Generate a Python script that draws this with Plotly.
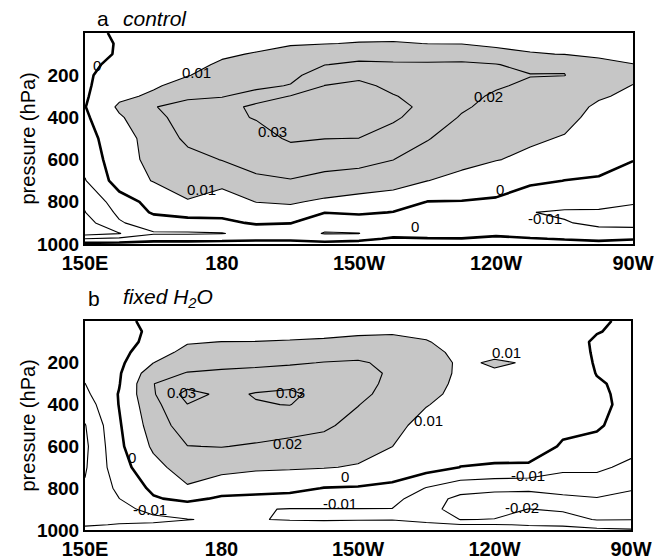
import numpy as np
import plotly.graph_objects as go

# ---------------- data ----------------
LON = [150, 157.5, 165, 172.5, 180, 187.5, 195, 202.5, 210, 217.5, 225, 232.5, 240, 247.5, 255, 262.5, 270]
PRES = [0, 50, 100, 150, 200, 250, 300, 350, 400, 500, 600, 700, 800, 850, 900, 950, 975, 1000]

TICK_LON = [150, 180, 210, 240, 270]
TICK_LON_TEXT = ["150E", "180", "150W", "120W", "90W"]
TICK_P = [200, 400, 600, 800, 1000]

# panel a (control): one list per longitude, values at PRES levels
CONTROL_COLS = [
    [-0.006, -0.005, -0.004, -0.003, -0.002, -0.0015, -0.001, -0.0003, -0.0015, -0.004, -0.007, -0.0105, -0.019, -0.0202, -0.024, -0.024, -0.01, 0.003],
    [0.003, 0.001, 0.001, 0.0034, 0.006, 0.0065, 0.008, 0.0115, 0.009, 0.0063, 0.0062, 0.0045, -0.0043, -0.008, -0.011, -0.0205, -0.008, 0.003],
    [0.004, 0.005, 0.006, 0.007, 0.008, 0.009, 0.0115, 0.0195, 0.016, 0.0135, 0.0125, 0.0105, 0.003, 0.0012, -0.005, -0.011, -0.004, 0.004],
    [0.005, 0.006, 0.007, 0.008, 0.0097, 0.013, 0.018, 0.024, 0.026, 0.022, 0.017, 0.0135, 0.0095, 0.004, -0.004, -0.011, -0.004, 0.004],
    [0.006, 0.007, 0.009, 0.011, 0.013, 0.016, 0.0195, 0.025, 0.028, 0.026, 0.0203, 0.0125, 0.006, 0.0025, -0.002, -0.0105, -0.003, 0.004],
    [0.007, 0.008, 0.0105, 0.013, 0.015, 0.018, 0.0235, 0.033, 0.0305, 0.027, 0.024, 0.018, 0.0102, 0.006, 0.001, -0.006, -0.002, 0.004],
    [0.008, 0.0095, 0.012, 0.015, 0.0175, 0.0205, 0.0305, 0.034, 0.035, 0.031, 0.0255, 0.0195, 0.011, 0.007, 0.0003, -0.006, -0.002, 0.004],
    [0.008, 0.0098, 0.014, 0.0198, 0.025, 0.0302, 0.034, 0.036, 0.036, 0.0301, 0.024, 0.017, 0.0085, 0.0003, -0.007, -0.0105, -0.004, 0.003],
    [0.008, 0.0103, 0.017, 0.0215, 0.028, 0.032, 0.034, 0.035, 0.035, 0.0299, 0.0235, 0.015, 0.007, 0.0015, -0.006, -0.0102, -0.002, 0.003],
    [0.008, 0.0105, 0.017, 0.021, 0.025, 0.028, 0.0305, 0.0325, 0.031, 0.027, 0.0201, 0.0135, 0.0055, -0.0003, -0.006, -0.003, 0.001, 0.004],
    [0.008, 0.0099, 0.0165, 0.021, 0.024, 0.026, 0.027, 0.028, 0.027, 0.0205, 0.016, 0.0101, -0.0002, -0.005, -0.008, -0.004, 0.0005, 0.004],
    [0.008, 0.0097, 0.016, 0.0215, 0.024, 0.025, 0.024, 0.0215, 0.019, 0.0155, 0.0125, 0.0075, -0.0004, -0.0055, -0.008, -0.004, 0.0003, 0.004],
    [0.007, 0.0085, 0.0125, 0.0205, 0.0235, 0.0215, 0.018, 0.0165, 0.015, 0.0125, 0.0103, 0.0045, -0.0012, -0.006, -0.009, -0.002, 0.002, 0.004],
    [0.007, 0.008, 0.0105, 0.0165, 0.0205, 0.0175, 0.015, 0.0135, 0.012, 0.011, 0.0085, 0.0015, -0.005, -0.0098, -0.0085, -0.003, 0.0005, 0.004],
    [0.006, 0.007, 0.0098, 0.019, 0.0202, 0.016, 0.014, 0.013, 0.012, 0.0095, 0.0055, -0.0001, -0.007, -0.011, -0.0095, -0.004, -0.0005, 0.003],
    [0.005, 0.006, 0.0085, 0.0125, 0.0135, 0.0125, 0.0108, 0.0088, 0.0078, 0.0055, 0.003, -0.0008, -0.0075, -0.011, -0.0115, -0.0075, -0.002, 0.003],
    [0.004, 0.005, 0.007, 0.0103, 0.0115, 0.0098, 0.0085, 0.007, 0.006, 0.0035, 0.0003, -0.004, -0.0095, -0.0115, -0.0115, -0.008, -0.0005, 0.003],
]

# panel b (fixed H2O)
FIXED_COLS = [
    [-0.003, -0.004, -0.005, -0.006, -0.007, -0.0085, -0.0101, -0.012, -0.015, -0.0205, -0.022, -0.021, -0.019, -0.017, -0.016, -0.014, -0.011, -0.007],
    [-0.001, -0.003, -0.004, -0.003, -0.002, -0.001, -0.0005, 0.0005, 0.0003, -0.001, -0.002, -0.004, -0.008, -0.0101, -0.012, -0.012, -0.0095, -0.006],
    [0.001, 0.0015, 0.003, 0.006, 0.0099, 0.016, 0.0198, 0.019, 0.017, 0.0145, 0.0115, 0.007, 0.002, -0.001, -0.008, -0.0115, -0.009, -0.006],
    [0.003, 0.005, 0.0093, 0.0125, 0.016, 0.0205, 0.026, 0.0335, 0.0298, 0.025, 0.0198, 0.0145, 0.009, 0.0025, -0.006, -0.0102, -0.008, -0.005],
    [0.004, 0.006, 0.0101, 0.014, 0.0175, 0.0215, 0.025, 0.028, 0.0275, 0.025, 0.0203, 0.013, 0.0045, -0.0015, -0.007, -0.0092, -0.007, -0.005],
    [0.004, 0.006, 0.0102, 0.014, 0.018, 0.0225, 0.027, 0.0305, 0.0295, 0.025, 0.019, 0.0115, 0.003, -0.002, -0.0095, -0.0098, -0.008, -0.006],
    [0.004, 0.0065, 0.0108, 0.0145, 0.019, 0.0235, 0.0278, 0.0318, 0.0302, 0.0235, 0.0175, 0.011, 0.0025, -0.003, -0.0103, -0.0103, -0.008, -0.006],
    [0.004, 0.007, 0.0115, 0.0165, 0.0203, 0.024, 0.026, 0.027, 0.026, 0.0215, 0.0165, 0.0105, -0.0003, -0.006, -0.0102, -0.0105, -0.008, -0.006],
    [0.004, 0.008, 0.013, 0.0175, 0.0208, 0.0225, 0.023, 0.0225, 0.0203, 0.017, 0.0135, 0.0093, -0.0008, -0.006, -0.0102, -0.0103, -0.008, -0.006],
    [0.004, 0.009, 0.0125, 0.016, 0.0185, 0.019, 0.018, 0.0165, 0.015, 0.013, 0.0101, 0.005, -0.002, -0.007, -0.0102, -0.0102, -0.008, -0.006],
    [0.004, 0.008, 0.0105, 0.0125, 0.014, 0.0145, 0.014, 0.0128, 0.0105, 0.0065, 0.004, 0.004, -0.0105, -0.0155, -0.017, -0.012, -0.0085, -0.006],
    [0.003, 0.005, 0.007, 0.008, 0.0088, 0.0085, 0.0078, 0.007, 0.006, 0.0045, 0.0025, -0.0001, -0.016, -0.0225, -0.0235, -0.0202, -0.0095, -0.007],
    [0.003, 0.0045, 0.0065, 0.0085, 0.0108, 0.0092, 0.0075, 0.0065, 0.0055, 0.004, 0.002, -0.0005, -0.018, -0.0235, -0.0225, -0.0198, -0.0095, -0.007],
    [0.002, 0.0035, 0.006, 0.008, 0.0095, 0.0085, 0.007, 0.006, 0.005, 0.0035, 0.0035, -0.001, -0.0185, -0.0235, -0.0199, -0.015, -0.0105, -0.007],
    [0.002, 0.003, 0.005, 0.0065, 0.007, 0.0065, 0.0055, 0.0045, 0.0035, 0.0015, -0.0007, -0.0075, -0.0175, -0.0215, -0.021, -0.017, -0.011, -0.007],
    [0.0015, 0.0005, -0.0015, -0.0015, -0.001, -0.0003, 0.0008, 0.0012, 0.0015, 0.0008, -0.002, -0.008, -0.016, -0.0205, -0.022, -0.0205, -0.014, -0.008],
    [-0.002, -0.0025, -0.003, -0.003, -0.0028, -0.0025, -0.002, -0.0018, -0.0018, -0.003, -0.0065, -0.0125, -0.0195, -0.0215, -0.022, -0.0202, -0.015, -0.009],
]

# contour labels: (lon, pressure, text)
CONTROL_LABELS = [
    (174.5, 185, "0.01"), (175.6, 744, "0.01"), (191.0, 469, "0.03"),
    (238.3, 303, "0.02"), (152.6, 152, "0"), (240.9, 744, "0"),
    (222.3, 919, "0"), (250.7, 877, "-0.01"),
]
FIXED_LABELS = [
    (171.3, 340, "0.03"), (195.1, 340, "0.03"), (194.4, 584, "0.02"),
    (160.3, 651, "0"), (164.3, 904, "-0.01"), (242.7, 153, "0.01"),
    (225.4, 474, "0.01"), (207.1, 746, "0"), (247.4, 737, "-0.01"),
    (246.0, 890, "-0.02"), (206.0, 871, "-0.01"),
]

# ---------------- figure ----------------
W, H = 670, 560
FONT = "Liberation Sans, Arial, sans-serif"
fig = go.Figure()


def add_panel(cols, xa, ya):
    z = np.array(cols).T
    # shaded region: values above 0.01 (constraint shading marks the region
    # that fails "< 0.01")
    fig.add_trace(go.Contour(
        x=LON, y=PRES, z=z, xaxis=xa, yaxis=ya,
        contours=dict(type="constraint", operation="<", value=0.01),
        fillcolor="#c6c6c6", line=dict(width=0, smoothing=0),
        showscale=False, hoverinfo="skip"))
    fig.add_trace(go.Contour(
        x=LON, y=PRES, z=z, xaxis=xa, yaxis=ya,
        contours=dict(coloring="none", start=-0.03, end=0.04, size=0.01),
        line=dict(color="black", width=1.1, smoothing=0),
        showscale=False, hoverinfo="skip"))
    fig.add_trace(go.Contour(
        x=LON, y=PRES, z=z, xaxis=xa, yaxis=ya,
        contours=dict(coloring="none", start=0, end=0.005, size=0.01),
        line=dict(color="black", width=2.6, smoothing=0),
        showscale=False, hoverinfo="skip"))


add_panel(CONTROL_COLS, "x", "y")
add_panel(FIXED_COLS, "x2", "y2")


def xaxis(dom, anchor):
    return dict(domain=dom, anchor=anchor, range=[150, 270], tickvals=TICK_LON,
                ticktext=TICK_LON_TEXT, showline=True, mirror=True, linecolor="black",
                linewidth=2, ticks="", showgrid=False, zeroline=False, automargin=False,
                tickfont=dict(family=FONT, size=20, color="black", weight="bold"))


def yaxis(dom, anchor):
    return dict(domain=dom, anchor=anchor, range=[1000, 0], tickvals=TICK_P,
                showline=True, mirror=True, linecolor="black", linewidth=2,
                ticks="", showgrid=False, zeroline=False, automargin=False,
                tickfont=dict(family=FONT, size=19, color="black", weight="bold"))


fig.update_layout(
    width=W, height=H, margin=dict(l=0, r=0, t=0, b=0, autoexpand=False),
    paper_bgcolor="white", plot_bgcolor="white", showlegend=False,
    xaxis=xaxis([85 / W, 633 / W], "y"),
    yaxis=yaxis([(H - 244) / H, (H - 33) / H], "x"),
    xaxis2=xaxis([85 / W, 631 / W], "y2"),
    yaxis2=yaxis([(H - 530) / H, (H - 321) / H], "x2"),
)

ann = []
for lon, p, t in CONTROL_LABELS:
    ann.append(dict(x=lon, y=p, xref="x", yref="y", text=t, showarrow=False,
                    font=dict(family=FONT, size=15, color="black")))
for lon, p, t in FIXED_LABELS:
    ann.append(dict(x=lon, y=p, xref="x2", yref="y2", text=t, showarrow=False,
                    font=dict(family=FONT, size=15, color="black")))

# panel titles
ann.append(dict(x=95 / W, y=1 - 19 / H, xref="paper", yref="paper", text="a",
                showarrow=False, xanchor="left", yanchor="middle",
                font=dict(family=FONT, size=21, color="black")))
ann.append(dict(x=121 / W, y=1 - 18 / H, xref="paper", yref="paper", text="<i>control</i>",
                showarrow=False, xanchor="left", yanchor="middle",
                font=dict(family=FONT, size=21, color="black")))
ann.append(dict(x=86 / W, y=1 - 298 / H, xref="paper", yref="paper", text="b",
                showarrow=False, xanchor="left", yanchor="middle",
                font=dict(family=FONT, size=21, color="black")))
ann.append(dict(x=121 / W, y=1 - 298 / H, xref="paper", yref="paper",
                text="<i>fixed H<sub>2</sub>O</i>",
                showarrow=False, xanchor="left", yanchor="middle",
                font=dict(family=FONT, size=21, color="black")))

# y-axis titles
for yc in (138.5, 425.5):
    ann.append(dict(x=27 / W, y=1 - yc / H, xref="paper", yref="paper",
                    text="pressure (hPa)", textangle=-90, showarrow=False,
                    xanchor="center", yanchor="middle",
                    font=dict(family=FONT, size=20, color="black")))

fig.update_layout(annotations=ann)
fig.write_html("out.html")
